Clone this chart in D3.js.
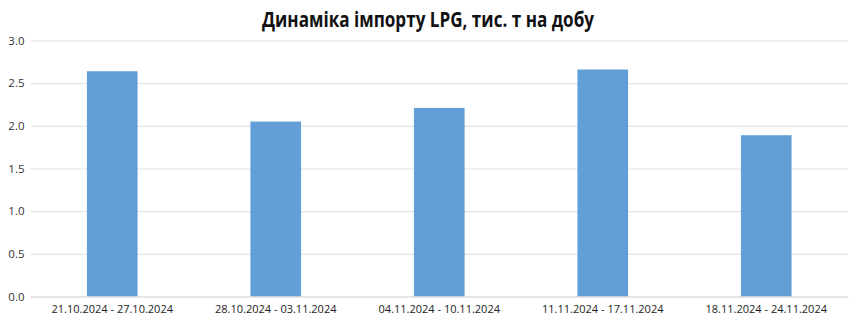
<!DOCTYPE html>
<html><head><meta charset="utf-8">
<script src="https://cdn.jsdelivr.net/npm/d3@7"></script>
<style>body{margin:0;background:#fff}</style>
</head><body>
<script>
const categories = ["21.10.2024 - 27.10.2024","28.10.2024 - 03.11.2024","04.11.2024 - 10.11.2024","11.11.2024 - 17.11.2024","18.11.2024 - 24.11.2024"];
const values = [2.64, 2.05, 2.21, 2.66, 1.89];
const yTicks = [0, 0.5, 1.0, 1.5, 2.0, 2.5, 3.0];
const title = "Динаміка імпорту LPG, тис. т на добу";

const W = 849, H = 336;
const m = {top: 40.5, right: 1, bottom: 39.5, left: 30.5};
const svg = d3.select("body").append("svg").attr("width", W).attr("height", H);

const x = d3.scaleBand().domain(categories).range([m.left, W - m.right]).paddingInner(0.69).paddingOuter(0.345);
const y = d3.scaleLinear().domain([0, 3]).range([H - m.bottom, m.top]);

svg.append("text").attr("x", 428).attr("y", 27).attr("text-anchor", "middle")
  .attr("font-family", "'Open Sans', sans-serif").attr("font-weight", "bold")
  .attr("font-size", 21).attr("fill", "#111")
  .attr("textLength", 332).attr("lengthAdjust", "spacingAndGlyphs").text(title);

const ga = svg.append("g").attr("transform", `translate(${m.left},0)`)
  .call(d3.axisLeft(y).tickValues(yTicks).tickFormat(d3.format(".1f")).tickSize(-(W - m.left - m.right)).tickPadding(6));
ga.select(".domain").remove();
ga.selectAll(".tick line").attr("stroke", "#e3e3e3").attr("stroke-width", 1.2);
ga.selectAll(".tick text").attr("font-family", "'Open Sans', sans-serif").attr("font-size", 11.5).attr("fill", "#333");

svg.append("g").selectAll("rect").data(values).join("rect")
  .attr("x", (d, i) => x(categories[i])).attr("width", x.bandwidth())
  .attr("y", d => y(d)).attr("height", d => y(0) - y(d)).attr("fill", "#629fd6");

const gx = svg.append("g").attr("transform", `translate(0,${H - m.bottom})`)
  .call(d3.axisBottom(x).tickSize(0).tickPadding(9));
gx.select(".domain").attr("stroke", "#d9d9d9");
gx.selectAll(".tick text").attr("font-family", "'Open Sans', sans-serif").attr("font-size", 11).attr("fill", "#222");
</script>
</body></html>
